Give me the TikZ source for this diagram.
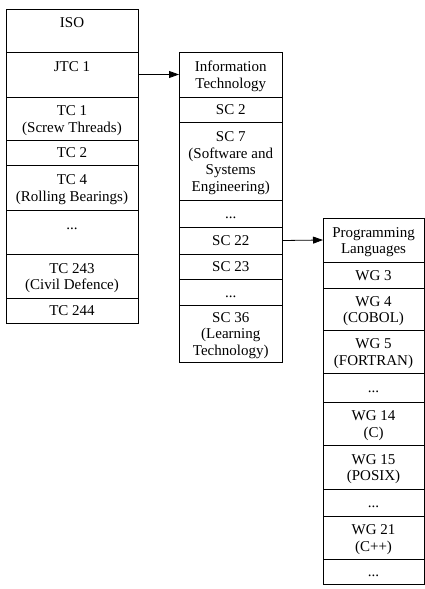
\documentclass[tikz,border=0pt]{standalone}
\usepackage{fontspec}
\setmainfont{Liberation Serif}
\usetikzlibrary{arrows.meta}
% name, x1, x2, top, bottom, cell lines, text lines, text
\newcommand\mycell[8]{%
  \pgfmathsetmacro\cx{(#2+#3)/2}%
  \pgfmathsetmacro\cy{(#4+#5)/2}%
  \pgfmathsetmacro\cw{#3-#2}%
  \pgfmathsetmacro\ch{#5-#4}%
  \pgfmathsetmacro\by{\cy-#6*8.25+13.5+(#7-1)*16.5}%
  \node[cellbox, minimum width=\cw pt, minimum height=\ch pt] (#1) at (\cx,\cy) {};
  \node[celltext] (#1-t) at (\cx,\by) {#8};
}
\begin{document}
\begin{tikzpicture}[x=1pt,y=-1pt,
  cellbox/.style={draw=black, line width=0.8pt, inner sep=0pt, outer sep=0pt, rectangle},
  celltext/.style={anchor=base, inner sep=0pt, align=center, font=\fontsize{15}{16.5}\selectfont},
  arr/.style={line width=0.8pt, -{Triangle[length=10pt,width=7pt]}}]
\useasboundingbox (0,0) rectangle (425,589);
% left column
\mycell{iso}{6}{138}{9}{52}{2}{1}{ISO}
\mycell{jtc1}{6}{138}{52}{97}{2}{1}{JTC 1}
\mycell{tc1}{6}{138}{97}{140}{2}{2}{TC 1\\(Screw Threads)}
\mycell{tc2}{6}{138}{140}{165}{1}{1}{TC 2}
\mycell{tc4}{6}{138}{165}{210}{2}{2}{TC 4\\(Rolling Bearings)}
\mycell{ldots}{6}{138}{210}{254}{2}{1}{...}
\mycell{tc243}{6}{138}{254}{298}{2}{2}{TC 243\\(Civil Defence)}
\mycell{tc244}{6}{138}{298}{323}{1}{1}{TC 244}
% middle column
\mycell{it}{179}{282.5}{52}{97}{2}{2}{Information\\Technology}
\mycell{sc2}{179}{282.5}{97}{122}{1}{1}{SC 2}
\mycell{sc7}{179}{282.5}{122}{200}{4}{4}{SC 7\\(Software and\\Systems\\Engineering)}
\mycell{mdotsa}{179}{282.5}{200}{227}{1}{1}{...}
\mycell{sc22}{179}{282.5}{227}{254}{1}{1}{SC 22}
\mycell{sc23}{179}{282.5}{254}{279}{1}{1}{SC 23}
\mycell{mdotsb}{179}{282.5}{279}{305}{1}{1}{...}
\mycell{sc36}{179}{282.5}{305}{362}{3}{3}{SC 36\\(Learning\\Technology)}
% right column
\mycell{pl}{323}{424}{218}{262}{2}{2}{Programming\\Languages}
\mycell{wg3}{323}{424}{262}{288}{1}{1}{WG 3}
\mycell{wg4}{323}{424}{288}{330}{2}{2}{WG 4\\(COBOL)}
\mycell{wg5}{323}{424}{330}{373}{2}{2}{WG 5\\(FORTRAN)}
\mycell{rdotsa}{323}{424}{373}{402}{1}{1}{...}
\mycell{wg14}{323}{424}{402}{445}{2}{2}{WG 14\\(C)}
\mycell{wg15}{323}{424}{445}{489}{2}{2}{WG 15\\(POSIX)}
\mycell{rdotsb}{323}{424}{489}{516}{1}{1}{...}
\mycell{wg21}{323}{424}{516}{559}{2}{2}{WG 21\\(C++)}
\mycell{rdotsc}{323}{424}{559}{584}{1}{1}{...}
% connectors
\draw[arr] (jtc1.east) -- (it.west);
\draw[arr] (sc22.east) -- (pl.west);
\end{tikzpicture}
\end{document}
